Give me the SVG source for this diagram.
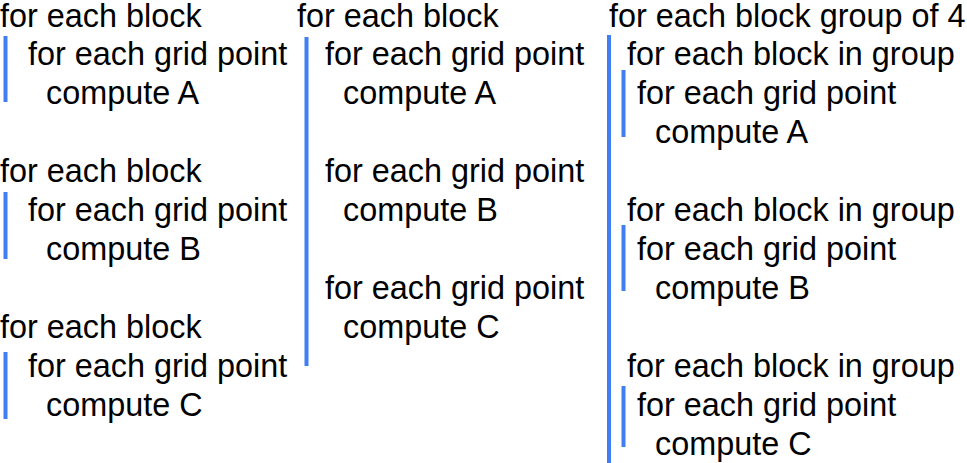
<svg xmlns="http://www.w3.org/2000/svg" width="967" height="463" viewBox="0 0 967 463">
<style>
text{font-family:"Liberation Sans",Arial,sans-serif;font-size:32.4px;fill:#000}
.bar{stroke:#3F7EF3;stroke-width:4;fill:none}
</style>
<rect width="967" height="463" fill="#fff"/>
<g id="connectors">
<line class="bar" x1="5.5" y1="36" x2="5.5" y2="102"/>
<line class="bar" x1="5.5" y1="192" x2="5.5" y2="259"/>
<line class="bar" x1="5.5" y1="352" x2="5.5" y2="419"/>
<line class="bar" x1="306.5" y1="37" x2="306.5" y2="366"/>
<line class="bar" x1="609" y1="35" x2="609" y2="463"/>
<line class="bar" x1="623.5" y1="70" x2="623.5" y2="137"/>
<line class="bar" x1="623.5" y1="225" x2="623.5" y2="291"/>
<line class="bar" x1="623.5" y1="386" x2="623.5" y2="447"/>
</g>
<g id="col1">
<g id="c1a"><text x="0" y="27">for each block</text><text x="28" y="65">for each grid point</text><text x="46" y="104">compute A</text></g>
<g id="c1b"><text x="0" y="182">for each block</text><text x="28" y="221">for each grid point</text><text x="46" y="260">compute B</text></g>
<g id="c1c"><text x="0" y="338">for each block</text><text x="28" y="377">for each grid point</text><text x="46" y="416">compute C</text></g>
</g>
<g id="col2">
<text x="297" y="27">for each block</text>
<g id="c2a"><text x="325" y="65">for each grid point</text><text x="343" y="104">compute A</text></g>
<g id="c2b"><text x="325" y="182">for each grid point</text><text x="343" y="221">compute B</text></g>
<g id="c2c"><text x="325" y="299">for each grid point</text><text x="343" y="338">compute C</text></g>
</g>
<g id="col3">
<text x="609" y="27">for each block group of 4</text>
<g id="c3a"><text x="627" y="65">for each block in group</text><text x="637" y="104">for each grid point</text><text x="655" y="143">compute A</text></g>
<g id="c3b"><text x="627" y="221">for each block in group</text><text x="637" y="260">for each grid point</text><text x="655" y="299">compute B</text></g>
<g id="c3c"><text x="627" y="377">for each block in group</text><text x="637" y="416">for each grid point</text><text x="655" y="455">compute C</text></g>
</g>
</svg>
